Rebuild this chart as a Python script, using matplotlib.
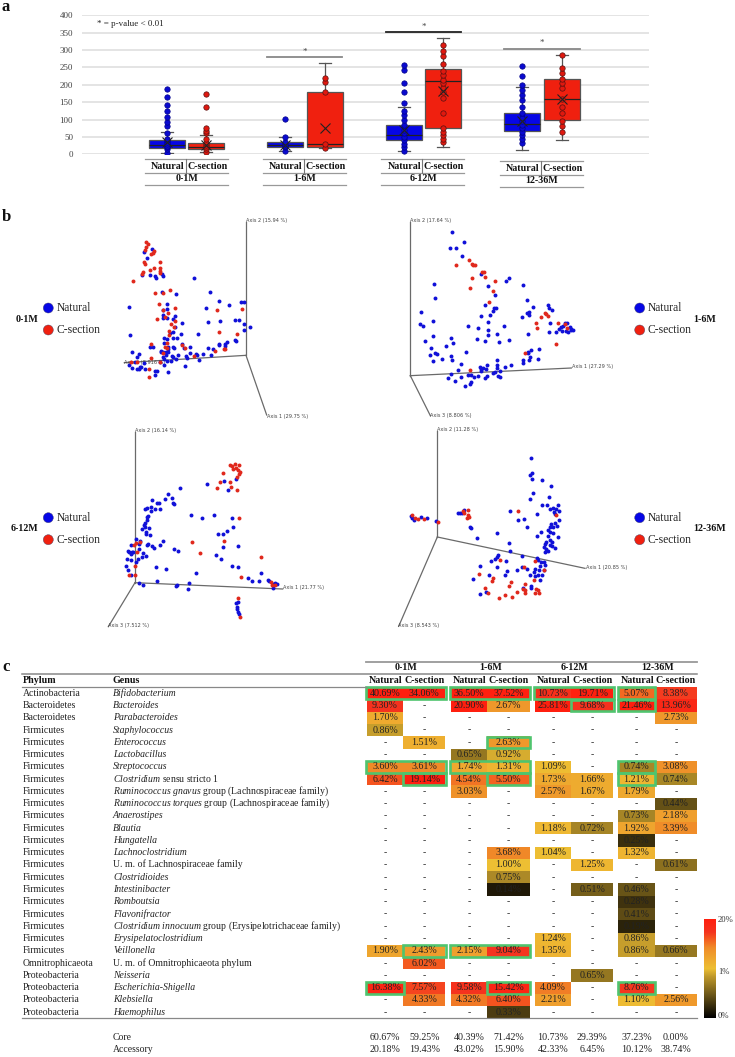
import numpy as np
import matplotlib
matplotlib.use("Agg")
import matplotlib.pyplot as plt
from matplotlib.colors import LinearSegmentedColormap
from matplotlib.patches import Rectangle

plt.rcParams['font.family'] = ['Liberation Serif', 'DejaVu Serif']
plt.rcParams['mathtext.fontset'] = 'custom'
plt.rcParams['mathtext.rm'] = 'Liberation Serif'
plt.rcParams['mathtext.it'] = 'Liberation Serif:italic'
plt.rcParams['mathtext.bf'] = 'Liberation Serif:bold'

W, H = 735, 1057

# ---------- panel a data ----------
age_groups = ['0-1M', '1-6M', '6-12M', '12-36M']
box_natural = [
    dict(whislo=5, q1=17, med=27, q3=40, whishi=65, mean=35),
    dict(whislo=10, q1=20, med=28, q3=35, whishi=50, mean=28),
    dict(whislo=10, q1=40, med=55, q3=83, whishi=137, mean=70),
    dict(whislo=13, q1=67, med=88, q3=118, whishi=193, mean=95),
]
box_csection = [
    dict(whislo=8, q1=15, med=22, q3=33, whishi=55, mean=28),
    dict(whislo=18, q1=20, med=30, q3=178, whishi=262, mean=75),
    dict(whislo=20, q1=75, med=210, q3=245, whishi=335, mean=182),
    dict(whislo=42, q1=98, med=158, q3=218, whishi=287, mean=160),
]
points_natural = [
    [5, 15, 20, 25, 30, 35, 40, 45, 62, 82, 92, 108, 125, 141, 165, 188],
    [10, 20, 25, 30, 35, 50, 102],
    [10, 20, 30, 40, 50, 60, 70, 85, 100, 112, 125, 148, 178, 205, 242, 257],
    [33, 45, 55, 65, 75, 85, 95, 105, 118, 135, 155, 170, 185, 200, 225, 253],
]
points_csection = [
    [8, 15, 22, 28, 33, 45, 62, 68, 75, 135, 174],
    [18, 30, 178, 207, 220],
    [35, 45, 55, 65, 75, 118, 162, 180, 190, 205, 215, 228, 240, 260, 283, 298, 315],
    [65, 82, 97, 118, 137, 160, 190, 205, 218, 235, 247, 287],
]
sig_levels = [279, 351, 303]

# ---------- panel b data (projected PCoA coordinates) ----------
p1_natural = [(583,220),(631,261),(656,288),(686,299),(617,310),(722,290),(731,292),(387,307),(661,347),(625,350),(704,345),(716,345),(733,358),(732,374),(750,367),(594,386),(390,391),(704,404),(709,408),(682,412),(674,416),(657,417),(658,421),(674,422),(625,428),(640,433),(634,450),(610,447),(587,447),(592,451),(570,425),(571,443),(558,453),(560,460),(598,466),(555,483),(455,132),(433,140),(440,160),(451,211),(466,214),(467,218),(485,207),(489,213),(425,210),(486,260),(528,267),(502,296),(502,311),(490,315),(490,330),(525,333),(490,338),(500,340),(545,355),(518,341),(525,365),(520,380),(510,385),(543,387),(518,398),(493,400),(500,403),(532,400),(493,415),(545,417),(552,428),(535,450),(522,428),(518,425),(505,425),(484,437),(484,440),(490,440),(498,440),(505,442),(498,450),(490,455),(515,452),(528,462),(518,455),(512,468),(500,468),(492,462),(480,472),(492,481),(504,500),(472,497),(465,498),(464,511),(436,493),(424,487),(420,487),(417,492),(412,492),(396,490),(388,480),(405,472),(418,447),(410,457),(396,440),(432,473),(450,425),(458,427),(505,432)]
p1_csection = [(437,110),(444,118),(438,127),(435,135),(462,138),(458,143),(452,147),(479,172),(432,170),(435,177),(462,189),(451,194),(480,190),(481,198),(428,200),(427,208),(399,227),(479,205),(466,265),(511,255),(490,263),(476,297),(524,310),(488,314),(504,325),(495,335),(470,341),(524,349),(512,358),(522,367),(508,379),(506,390),(500,415),(496,425),(500,430),(454,418),(545,420),(556,428),(645,437),(672,433),(676,433),(658,381),(710,386),(650,315),(727,312),(454,460),(392,472),(412,470),(480,472),(448,491),(446,517),(582,453),(490,445)]
p2_natural = [(251,81),(287,110),(247,129),(264,128),(282,154),(340,207),(424,220),(414,229),(360,243),(199,238),(200,280),(464,240),(381,271),(476,286),(350,300),(494,305),(378,310),(383,308),(375,318),(539,300),(543,308),(551,316),(160,320),(365,331),(340,332),(484,320),(476,325),(483,330),(462,335),(157,356),(165,362),(195,349),(359,351),(300,364),(330,370),(407,363),(359,375),(361,389),(387,387),(195,393),(250,398),(328,402),(351,409),(394,410),(422,406),(481,388),(546,353),(543,382),(170,408),(255,415),(234,424),(190,428),(295,441),(512,433),(488,435),(481,440),(480,444),(186,449),(201,445),(208,446),(248,453),(221,461),(196,468),(253,466),(486,455),(510,462),(484,464),(465,466),(465,474),(387,466),(388,480),(279,476),(357,480),(430,481),(412,487),(336,485),(354,493),(270,495),(340,492),(346,490),(340,497),(395,498),(388,490),(380,500),(376,504),(300,509),(310,510),(318,515),(330,514),(356,514),(350,519),(390,512),(395,516),(250,507),(241,519),(279,516),(260,528),(308,530),(305,536),(290,543),(590,355),(598,355),(585,362),(578,367),(573,372),(563,382),(582,379),(594,379),(601,382),(605,367),(610,371),(615,375),(608,375)]
p2_csection = [(264,179),(303,165),(312,176),(314,181),(322,179),(347,201),(342,200),(352,216),(311,218),(381,229),(307,250),(375,259),(363,291),(530,323),(533,328),(540,333),(518,335),(504,355),(506,369),(570,353),(592,358),(596,370),(563,416),(470,445),(305,494)]
p3_natural = [(539,188),(621,178),(672,167),(684,195),(709,163),(503,208),(494,222),(516,219),(455,226),(518,233),(521,237),(470,234),(477,235),(452,245),(440,249),(436,253),(465,253),(481,252),(454,258),(444,272),(441,277),(440,285),(436,293),(432,300),(436,305),(447,310),(425,312),(438,322),(437,328),(451,329),(573,270),(606,280),(642,271),(697,279),(700,305),(682,319),(670,327),(653,328),(407,342),(421,347),(417,358),(490,349),(479,359),(443,357),(440,361),(457,363),(462,368),(392,361),(714,363),(669,367),(522,373),(535,378),(385,377),(388,380),(395,382),(392,388),(400,380),(416,373),(430,385),(425,397),(439,392),(413,403),(407,411),(380,403),(392,405),(647,389),(664,402),(378,423),(383,434),(467,426),(497,432),(696,424),(715,426),(587,443),(744,460),(757,467),(777,469),(782,443),(805,464),(808,468),(820,478),(825,475),(830,476),(820,490),(472,467),(417,474),(429,480),(532,480),(528,482),(567,473),(564,491),(393,450),(708,533),(714,531),(710,545),(712,552),(715,560),(718,568)]
p3_csection = [(690,121),(697,124),(706,116),(717,119),(700,132),(708,130),(715,135),(720,140),(718,147),(712,155),(669,143),(659,172),(689,172),(692,185),(650,189),(712,196),(716,279),(671,347),(575,350),(600,383),(782,395),(722,456),(812,470),(815,480),(404,422),(388,450),(406,450),(403,360),(408,355),(420,352),(412,380),(715,520),(721,577),(825,480)]
p4_natural = [(488,98),(491,143),(487,149),(493,163),(523,164),(550,184),(495,204),(542,215),(486,223),(521,239),(536,239),(570,241),(545,253),(556,250),(565,252),(574,257),(557,262),(562,267),(508,268),(469,283),(450,286),(427,258),(572,286),(562,295),(566,302),(550,297),(547,307),(555,305),(476,305),(518,320),(540,316),(545,322),(554,324),(507,334),(541,333),(570,337),(547,345),(535,350),(552,351),(530,356),(545,360),(553,364),(528,367),(534,372),(562,369),(530,380),(540,378),(422,353),(425,378),(463,392),(387,323),(327,339),(307,307),(310,308),(270,264),(277,263),(287,256),(283,265),(160,276),(177,278),(130,273),(133,280),(137,284),(203,289),(391,390),(388,396),(380,402),(369,407),(414,407),(508,400),(510,405),(520,410),(527,411),(531,420),(336,422),(388,426),(446,435),(418,437),(462,426),(476,433),(500,432),(498,440),(517,424),(513,435),(527,436),(487,450),(500,452),(510,451),(522,449),(516,465),(362,451),(410,450),(316,462),(464,488),(490,483),(488,490),(353,500),(337,508)]
p4_csection = [(449,257),(301,256),(285,257),(289,265),(300,270),(303,275),(296,278),(133,270),(142,278),(150,282),(168,281),(210,290),(563,269),(395,405),(500,408),(468,426),(527,435),(334,447),(376,460),(373,469),(350,488),(360,505),(429,470),(422,484),(410,510),(394,519),(433,517),(446,501),(470,478),(465,492),(470,494),(472,505),(499,465),(503,491),(511,494),(500,505),(512,505)]
axis_percent = [
    ('Axis 1 (29.75 %)', 'Axis 2 (15.94 %)', 'Axis 3 (8.916 %)'),
    ('Axis 1 (27.29 %)', 'Axis 2 (17.64 %)', 'Axis 3 (8.806 %)'),
    ('Axis 1 (21.77 %)', 'Axis 2 (16.14 %)', 'Axis 3 (7.512 %)'),
    ('Axis 1 (20.85 %)', 'Axis 2 (11.28 %)', 'Axis 3 (8.543 %)'),
]

# ---------- panel c data ----------
_ = None
phyla = ['Actinobacteria', 'Bacteroidetes', 'Bacteroidetes'] + ['Firmicutes'] * 19 + \
        ['Omnitrophicaeota', 'Proteobacteria', 'Proteobacteria', 'Proteobacteria', 'Proteobacteria']
genera = ['Bifidobacterium', 'Bacteroides', 'Parabacteroides', 'Staphylococcus', 'Enterococcus',
          'Lactobacillus', 'Streptococcus', r'$\mathit{Clostridium}$ sensu stricto 1',
          r'$\mathit{Ruminococcus\ gnavus}$ group (Lachnospiraceae family)',
          r'$\mathit{Ruminococcus\ torques}$ group (Lachnospiraceae family)',
          'Anaerostipes', 'Blautia', 'Hungatella', 'Lachnoclostridium',
          'U. m. of Lachnospiraceae family', 'Clostridioides', 'Intestinibacter', 'Romboutsia',
          'Flavonifractor', r'$\mathit{Clostridium\ innocuum}$ group (Erysipelotrichaceae family)',
          'Erysipelatoclostridium', 'Veillonella', 'U. m. of Omnitrophicaeota phylum', 'Neisseria',
          'Escherichia-Shigella', 'Klebsiella', 'Haemophilus']
abundance = [
    [40.69, 34.06, 36.50, 37.52, 10.73, 19.71, 5.07, 8.38],
    [9.30, _, 20.90, 2.67, 25.81, 9.68, 21.46, 13.96],
    [1.70, _, _, _, _, _, _, 2.73],
    [0.86, _, _, _, _, _, _, _],
    [_, 1.51, _, 2.63, _, _, _, _],
    [_, _, 0.65, 0.92, _, _, _, _],
    [3.60, 3.61, 1.74, 1.31, 1.09, _, 0.74, 3.08],
    [6.42, 19.14, 4.54, 5.50, 1.73, 1.66, 1.21, 0.74],
    [_, _, 3.03, _, 2.57, 1.67, 1.79, _],
    [_, _, _, _, _, _, _, 0.44],
    [_, _, _, _, _, _, 0.73, 2.18],
    [_, _, _, _, 1.18, 0.72, 1.92, 3.39],
    [_, _, _, _, _, _, 0.25, _],
    [_, _, _, 3.68, 1.04, _, 1.32, _],
    [_, _, _, 1.00, _, 1.25, _, 0.61],
    [_, _, _, 0.75, _, _, _, _],
    [_, _, _, 0.14, _, 0.51, 0.46, _],
    [_, _, _, _, _, _, 0.28, _],
    [_, _, _, _, _, _, 0.41, _],
    [_, _, _, _, _, _, 0.19, _],
    [_, _, _, _, 1.24, _, 0.86, _],
    [1.90, 2.43, 2.15, 9.04, 1.35, _, 0.86, 0.66],
    [_, 6.02, _, _, _, _, _, _],
    [_, _, _, _, _, 0.65, _, _],
    [16.38, 7.57, 9.58, 15.42, 4.09, _, 8.76, _],
    [_, 4.33, 4.32, 6.40, 2.21, _, 1.10, 2.56],
    [_, _, _, 0.33, _, _, _, _],
]
core = ['60.67%', '59.25%', '40.39%', '71.42%', '10.73%', '29.39%', '37.23%', '0.00%']
accessory = ['20.18%', '19.43%', '43.02%', '15.90%', '42.33%', '6.45%', '10.12%', '38.74%']
# (row, first column, last column) of green outlined cells
highlights = [(0,0,1),(0,2,3),(0,4,5),(0,6,6),(1,5,5),(1,6,6),(4,3,3),(6,0,1),(6,2,3),(6,6,6),
              (7,1,1),(7,3,3),(7,6,6),(21,1,1),(21,2,3),(24,0,0),(24,3,3),(24,6,6)]

# ---------- figure ----------
fig = plt.figure(figsize=(W / 100, H / 100), dpi=100)
BLUE, RED = '#0606e6', '#f0200f'


def px_axes(x0, y0, w, h, xlim=None, ylim=None):
    ax = fig.add_axes([x0 / W, 1 - (y0 + h) / H, w / W, h / H])
    ax.set_xlim(*(xlim if xlim else (x0, x0 + w)))
    ax.set_ylim(*(ylim if ylim else (y0 + h, y0)))
    return ax


# overlay in pixel coordinates
ov = px_axes(0, 0, W, H)
ov.axis('off')
ov.patch.set_alpha(0)

for txt, x, y in [('a', 2, 7), ('b', 2, 217), ('c', 2, 667)]:
    ov.text(x, y, txt, fontsize=12, fontweight='bold', va='center', ha='left', color='#111')

# ---------- panel a ----------
axa = px_axes(81.5, 15.3, 649 - 81.5, 139, ylim=(0, 400))
axa.set_zorder(2)
axa.patch.set_alpha(0)
for s in axa.spines.values():
    s.set_visible(False)
axa.set_yticks(range(0, 401, 50))
axa.tick_params(axis='y', length=0, labelsize=6.5, labelcolor='#444', pad=6)
axa.set_xticks([])
axa.grid(axis='y', color='#dcdcdc', lw=1.1)
axa.set_axisbelow(True)
pos_n = [167, 285, 404, 522]
pos_c = [205.5, 325, 443, 562]
for pos, stats, pts, col, ptcol in [(pos_n, box_natural, points_natural, BLUE, '#0a0ad0'),
                                    (pos_c, box_csection, points_csection, RED, '#e0180f')]:
    axa.bxp([dict(s, fliers=[]) for s in stats], positions=pos, widths=36, patch_artist=True,
            showmeans=True, showfliers=False, manage_ticks=False, capwidths=12,
            boxprops=dict(facecolor=col, edgecolor='#555', lw=0.9),
            medianprops=dict(color='#222', lw=0.9),
            whiskerprops=dict(color='#555', lw=0.9), capprops=dict(color='#555', lw=0.9),
            meanprops=dict(marker='x', markeredgecolor='#222', markerfacecolor='none',
                           markersize=6.5, markeredgewidth=0.8, zorder=6), zorder=3)
    for p, vals in zip(pos, pts):
        axa.scatter([p] * len(vals), vals, s=15, color=ptcol, edgecolor='#551111' if col == RED else '#000088',
                    linewidth=0.5, zorder=5)
for (a, b), lev, c in zip([(267, 342), (386, 461), (504, 580)], sig_levels, ['#888', '#222', '#888']):
    axa.plot([a, b], [lev, lev], color=c, lw=1.3, zorder=4, clip_on=False)
    axa.text((a + b) / 2, lev + 5, '*', ha='center', va='bottom', fontsize=6.5, color='#444')
ov.text(97.5, 24, '* = p-value < 0.01', fontsize=6.5, color='#222', va='center')

for g, x0, dy in zip(age_groups, [145.4, 263, 381.5, 500], [0, 0, 0, 2]):
    x1 = x0 + 83
    for y in (159, 172.7, 184.5):
        ov.plot([x0, x1], [y + dy, y + dy], color='#999', lw=0.9)
    xm = x0 + 41
    ov.plot([xm, xm], [159 + dy, 172.7 + dy], color='#777', lw=0.8)
    ov.text(xm - 1.5, 166.3 + dy, 'Natural', ha='right', va='center', fontsize=7.2, fontweight='bold', color='#111')
    ov.text(xm + 1.5, 166.3 + dy, 'C-section', ha='left', va='center', fontsize=7.2, fontweight='bold', color='#111')
    ov.text((x0 + x1) / 2, 178.5 + dy, g, ha='center', va='center', fontsize=7.2, fontweight='bold', color='#111')

# ---------- panel b ----------
panels = [
    (0, 205, 368, 220, p1_natural, p1_csection, (738, 451), (800, 630), (738, 52), (373, 473),
     (802, 634), (738, 47), (372, 473)),
    (368, 205, 367, 220, p2_natural, p2_csection, (127, 512), (610, 489), (127, 50), (187, 632),
     (612, 485), (127, 47), (187, 633)),
    (0, 425, 368, 215, p3_natural, p3_csection, (405, 473), (848, 492), (405, 22), (325, 605),
     (848, 488), (405, 17), (323, 603)),
    (368, 425, 367, 215, p4_natural, p4_csection, (208, 336), (651, 430), (208, 18), (92, 604),
     (653, 427), (208, 15), (90, 603)),
]
for k, (x0, y0, w, h, nat, cs, o, a1, a2, a3, l1, l2, l3) in enumerate(panels):
    ax = px_axes(x0, y0, w, h, xlim=(0, w * 3), ylim=(h * 3, 0))
    ax.axis('off')
    ax.patch.set_alpha(0)
    for e in (a1, a2, a3):
        ax.plot([o[0], e[0]], [o[1], e[1]], color='#6a6a6a', lw=0.9, zorder=1)
    for lab, pt in zip(axis_percent[k], (l1, l2, l3)):
        ax.text(pt[0], pt[1], lab, fontsize=3.6, family='DejaVu Sans', va='center', ha='left', color='#444')
    nat = np.array(nat)
    cs = np.array(cs)
    ax.scatter(nat[:, 0], nat[:, 1], s=8, color='#1010d8', linewidth=0, zorder=3)
    ax.scatter(cs[:, 0], cs[:, 1], s=8, color='#e0281c', linewidth=0, zorder=4)

legend_spec = [(48.3, 308, 57, '0-1M', 16), (639.7, 308, 648, '1-6M', 693),
               (48.3, 517.7, 57, '6-12M', 11), (639.7, 517.7, 648, '12-36M', 693)]
for cx, cy, tx, g, gx in legend_spec:
    ov.scatter([cx, cx], [cy, cy + 22], s=52, c=[BLUE, RED], edgecolor='#446', linewidth=0.3)
    ov.text(tx, cy, 'Natural', fontsize=8.3, va='center', color='#222')
    ov.text(tx, cy + 22, 'C-section', fontsize=8.3, va='center', color='#222')
    ov.text(gx, cy + 11, g, fontsize=7.2, fontweight='bold', va='center', color='#111')

# ---------- panel c ----------
cmap = LinearSegmentedColormap.from_list('abund', [
    (0.00, (0, 0, 0)), (0.25, (0.45, 0.36, 0.10)), (0.42, (0.75, 0.60, 0.17)), (0.50, (0.93, 0.75, 0.20)),
    (0.71, (0.94, 0.55, 0.16)), (0.81, (0.96, 0.33, 0.12)), (0.87, (0.96, 0.20, 0.12)),
    (1.00, (1.00, 0.12, 0.06))])


def level(v):
    t = v * 0.5 if v <= 1 else 0.5 + 0.5 * np.log(v) / np.log(20)
    return float(min(t, 1.0))


TXT = 7.05
CELL = 7.2
BASE = 2.4
col_left = [366.8, 403.3, 450.7, 487.4, 534.7, 571.3, 618.2, 654.8]
col_width = [36.5, 42, 36.7, 42.2, 36.6, 42, 36.6, 42.2]
row0, row_h = 693.3, 12.27
for i, (ph, ge, vals) in enumerate(zip(phyla, genera, abundance)):
    y = row0 + i * row_h
    ov.text(22.5, y + BASE, ph, fontsize=TXT, va='baseline', color='#222')
    italic = not ('$' in ge or ge.startswith('U. m.'))
    ov.text(113, y + BASE, ge, fontsize=TXT, va='baseline', color='#222', style='italic' if italic else 'normal')
    for j, v in enumerate(vals):
        xc = col_left[j] + col_width[j] / 2
        if v is None:
            ov.text(xc, y + BASE, '-', fontsize=TXT, ha='center', va='baseline', color='#333')
        else:
            ov.add_patch(Rectangle((col_left[j], y - row_h / 2), col_width[j], row_h,
                                   facecolor=cmap(level(v)), edgecolor='none', zorder=1))
            ov.text(xc, y + BASE, f'{v:.2f}%', fontsize=CELL, ha='center', va='baseline', color='#222', zorder=3)
for r, c0, c1 in highlights:
    y = row0 + r * row_h
    ov.add_patch(Rectangle((col_left[c0] - 0.6, y - row_h / 2 + 0.3),
                           col_left[c1] + col_width[c1] - col_left[c0] + 1.2, row_h - 0.6,
                           facecolor='none', edgecolor='#4fc46e', lw=1.9, zorder=2))

ov.plot([366, 697], [661.7, 661.7], color='#999', lw=1.3)
ov.plot([22, 697], [674, 674], color='#888', lw=1.1)
ov.plot([22, 366], [686.5, 686.5], color='#888', lw=0.9)
ov.plot([22, 697], [1018, 1018], color='#888', lw=0.9)
ov.text(22.5, 680.7, 'Phylum', fontsize=7.2, fontweight='bold', va='center', color='#111')
ov.text(113, 680.7, 'Genus', fontsize=7.2, fontweight='bold', va='center', color='#111')
for k, g in enumerate(age_groups):
    xc = (col_left[2 * k] + col_left[2 * k + 1] + col_width[2 * k + 1]) / 2
    ov.text(xc, 668, g, fontsize=7.2, fontweight='bold', ha='center', va='center', color='#111')
    ov.text(col_left[2 * k] + col_width[2 * k] / 2 + 1, 680.7, 'Natural', fontsize=7.2, fontweight='bold',
            ha='center', va='center', color='#111')
    ov.text(col_left[2 * k + 1] + col_width[2 * k + 1] / 2, 680.7, 'C-section', fontsize=7.2, fontweight='bold',
            ha='center', va='center', color='#111')
ov.text(113, 1037.7, 'Core', fontsize=TXT, va='center', color='#222')
ov.text(113, 1050, 'Accessory', fontsize=TXT, va='center', color='#222')
for j in range(8):
    xc = col_left[j] + col_width[j] / 2
    ov.text(xc, 1037.7, core[j], fontsize=CELL, ha='center', va='center', color='#222')
    ov.text(xc, 1050, accessory[j], fontsize=CELL, ha='center', va='center', color='#222')

# colour bar
axc = px_axes(704.3, 919.3, 11.4, 98.4)
axc.imshow(np.linspace(1, 0, 256)[:, None], cmap=cmap, vmin=0, vmax=1, aspect='auto',
           extent=(704.3, 715.7, 1017.7, 919.3))
axc.axis('off')
for t, y in [('20%', 920.5), ('1%', 971.5), ('0%', 1016.5)]:
    ov.text(718, y, t, fontsize=6.2, va='center', color='#333')

fig.savefig('out.png', dpi=100)
